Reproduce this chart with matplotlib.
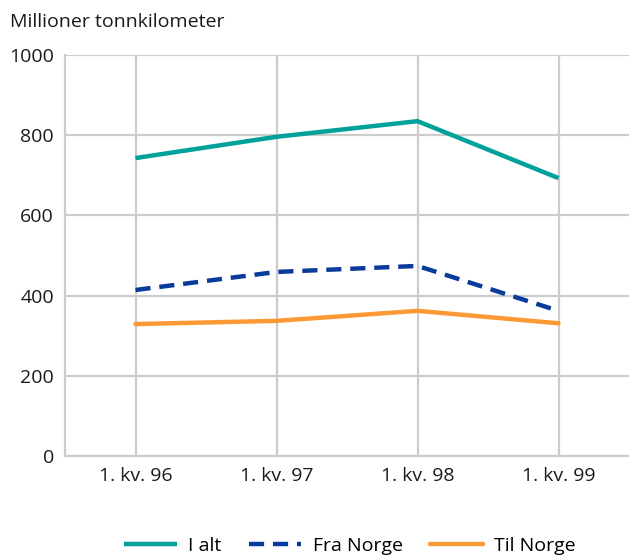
import matplotlib.pyplot as plt

# data
kvartal = ['1. kv. 96', '1. kv. 97', '1. kv. 98', '1. kv. 99']
i_alt = [743, 796, 835, 693]
fra_norge = [414, 459, 474, 362]
til_norge = [329, 337, 362, 331]

plt.rcParams['font.family'] = ['Open Sans', 'DejaVu Sans']

fig = plt.figure(figsize=(6.29, 5.56), dpi=100)
ax = fig.add_axes([65 / 629, 100 / 556, 564 / 629, 401 / 556])

x = range(len(kvartal))
ax.plot(x, i_alt, color='#00a19a', lw=3.2, label='I alt', solid_capstyle='butt')
ax.plot(x, fra_norge, color='#083b9c', lw=3.2, ls=(0, (3.4, 2)), label='Fra Norge')
ax.plot(x, til_norge, color='#fb9a35', lw=3.2, label='Til Norge', solid_capstyle='round')

ax.set_xlim(-0.5, 3.5)
ax.set_ylim(0, 1000)
ax.set_xticks(list(x))
ax.set_xticklabels(kvartal)
ax.set_yticks([0, 200, 400, 600, 800, 1000])
ax.grid(True, color='#cccccc', lw=1.6)
ax.set_axisbelow(True)
for s in ['top', 'right']:
    ax.spines[s].set_visible(False)
for s in ['left', 'bottom']:
    ax.spines[s].set_color('#cccccc')
    ax.spines[s].set_linewidth(1.6)
ax.tick_params(length=0, labelsize=14, colors='#1a1a1a', pad=8)

fig.text(10 / 629, 1 - 22 / 556, 'Millioner tonnkilometer', fontsize=14,
         color='#1a1a1a', va='center')

fig.legend(loc='center', bbox_to_anchor=(350 / 629, 1 - 546 / 556), ncol=3,
           frameon=False, fontsize=14, handlelength=2.7, columnspacing=1.4,
           handletextpad=0.6)

fig.savefig('out.png', dpi=100)
